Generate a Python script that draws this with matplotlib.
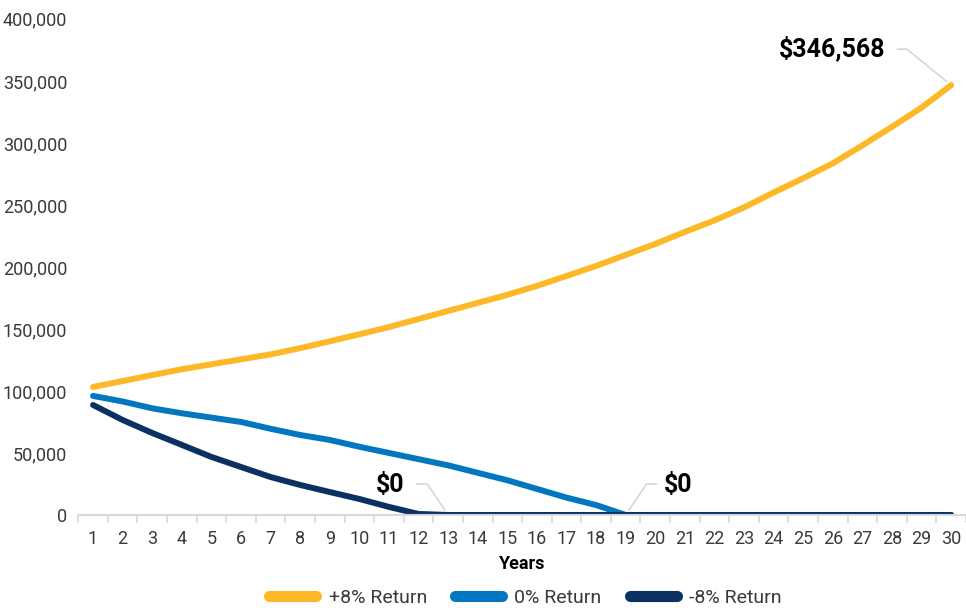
import matplotlib.pyplot as plt
from matplotlib.lines import Line2D
from matplotlib.ticker import FuncFormatter, MultipleLocator
import numpy as np

years = list(range(1, 31))

ret_pos8 = [103200, 108000, 112800, 117500, 121500, 125500, 129500, 134500, 140000, 145700,
            151500, 158000, 164500, 171000, 177500, 184700, 192700, 200800, 209700, 218500,
            228200, 237500, 248000, 260000, 271500, 283500, 298000, 313000, 328500, 346568]
ret_zero = [96000, 91500, 86000, 82000, 78500, 75000, 69500, 64500, 60500, 55000,
            50000, 45000, 40000, 34000, 28000, 21000, 14000, 8000, 0, 0,
            0, 0, 0, 0, 0, 0, 0, 0, 0, 0]
ret_neg8 = [88700, 76600, 66100, 56500, 46800, 38700, 30600, 24200, 18500, 12900,
            6500, 800, 0, 0, 0, 0, 0, 0, 0, 0,
            0, 0, 0, 0, 0, 0, 0, 0, 0, 0]

series_names = ["+8% Return", "0% Return", "-8% Return"]
colors = ["#FDB827", "#0277BF", "#0B3163"]

plt.rcParams["font.family"] = ["Roboto", "DejaVu Sans"]

fig = plt.figure(figsize=(9.66, 6.08), dpi=100)
ax = fig.add_axes([0.081, 0.153, 0.919, 0.816])

for vals, c in zip([ret_pos8, ret_zero, ret_neg8], colors):
    ax.plot(years, vals, color=c, lw=4.3, solid_capstyle="round", solid_joinstyle="round")

ax.set_xlim(0.5, 30.5)
ax.set_ylim(0, 400000)
ax.yaxis.set_major_locator(MultipleLocator(50000))
ax.yaxis.set_major_formatter(FuncFormatter(lambda v, p: f"{int(v):,}"))
ax.set_xticks(years)
ax.set_xticks(np.arange(0.5, 31, 1), minor=True)

for s in ["top", "right", "left"]:
    ax.spines[s].set_visible(False)
ax.spines["bottom"].set_color("#D9D9D9")
ax.spines["bottom"].set_linewidth(1.5)

ax.tick_params(axis="y", length=0, pad=8, labelsize=13, labelcolor="#3A3A3A")
ax.tick_params(axis="x", which="major", length=0, pad=11, labelsize=13, labelcolor="#3A3A3A")
ax.tick_params(axis="x", which="minor", length=6, width=1.2, color="#D9D9D9")

ax.set_xlabel("Years", fontsize=13, fontweight="bold", color="#000000", labelpad=5)

# callouts: leader line + bold value label
callouts = [
    (30, ret_pos8[29], f"${ret_pos8[29]:,}", (-54, 36), 141, (-66, 37), "right"),
    (13, ret_neg8[12], f"${ret_neg8[12]:,}", (-32, 31), 124, (-44, 30), "right"),
    (19, ret_zero[18], f"${ret_zero[18]:,}", (31, 31), 56, (38, 30), "left"),
]
for x, y, txt, line_off, ang, txt_off, ha in callouts:
    ax.annotate("", xy=(x, y), xytext=line_off, textcoords="offset pixels",
                arrowprops=dict(arrowstyle="-", color="#CFCFCF", lw=1.0,
                                connectionstyle=f"angle,angleA=0,angleB={ang},rad=0",
                                shrinkA=0, shrinkB=4))
    ax.annotate(txt, xy=(x, y), xytext=txt_off, textcoords="offset pixels",
                ha=ha, va="center", fontsize=18, fontweight="bold", color="#000000")

handles = [Line2D([0], [0], color=c, lw=8, solid_capstyle="round") for c in colors]
fig.legend(handles, series_names, loc="center", bbox_to_anchor=(0.544, 0.017), ncol=3,
           frameon=False, handlelength=2.4, handletextpad=0.65,
           columnspacing=1.45, labelcolor="#3A3A3A", prop={"size": 14})

fig.savefig("out.png", dpi=100)
